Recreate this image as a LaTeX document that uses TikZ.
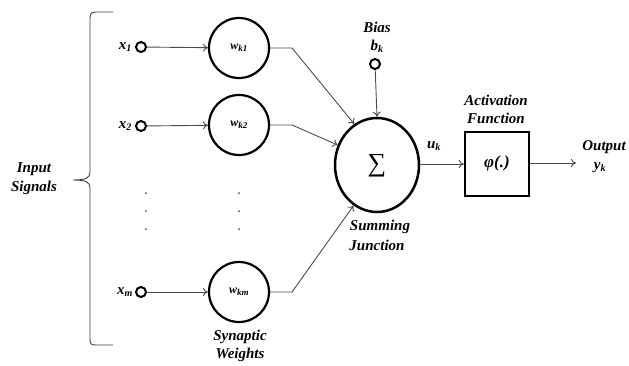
\documentclass[tikz,border=0pt]{standalone}
\usepackage{fontspec}
\setmainfont{Liberation Serif}
\usetikzlibrary{shapes.geometric,arrows.meta}
\begin{document}
\begin{tikzpicture}[x=1pt,y=-1pt,
  lbl/.style={font=\fontsize{15}{16}\selectfont\bfseries\itshape, inner sep=0pt},
  sig/.style={font=\fontsize{15}{16}\selectfont\bfseries\itshape, inner sep=0pt},
  wlbl/.style={font=\fontsize{12}{13}\selectfont\bfseries\itshape, inner sep=0pt},
  port/.style={circle, draw, line width=2pt, minimum size=10pt, inner sep=0pt},
  weight/.style={circle, draw, line width=2.2pt, minimum size=60pt, inner sep=0pt},
  wire/.style={draw=black!70, line width=0.9pt},
  arr/.style={wire, -{To[length=5pt,width=8pt]}},
  dotmark/.style={circle, fill=black!70, minimum size=2pt, inner sep=0pt}
]
\useasboundingbox (0,0) rectangle (629,365);

% brace grouping the inputs
\draw[black!75, line width=0.9pt]
  (113,12) -- (96,12) .. controls (91,12) and (90,14) .. (90,19)
  -- (90,172) .. controls (90,178) and (86,180) .. (73,180)
  .. controls (86,180) and (90,182) .. (90,188)
  -- (90,339) .. controls (90,344) and (91,345) .. (96,345) -- (113,345);
\node[lbl] (in1) at (34,169) {Input};
\node[lbl] (in2) at (34,188) {Signals};

% input ports
\node[port] (x1) at (141,47) {};
\node[port] (x2) at (141,126) {};
\node[port] (xm) at (141,292) {};
\node[sig, anchor=east] (lx1) at (132,47) {x\textsubscript{\fontsize{10}{10}\selectfont 1}};
\node[sig, anchor=east] (lx2) at (132,126) {x\textsubscript{\fontsize{10}{10}\selectfont 2}};
\node[sig, anchor=east] (lxm) at (133,292) {x\textsubscript{\fontsize{10}{10}\selectfont m}};

% synaptic weights
\node[weight] (w1) at (239,48) {};
\node[weight] (w2) at (239,125) {};
\node[weight] (wm) at (239,292) {};
\node[wlbl] at (w1) {w\textsubscript{\fontsize{9}{9}\selectfont k1}};
\node[wlbl] at (w2) {w\textsubscript{\fontsize{9}{9}\selectfont k2}};
\node[wlbl] at (wm) {w\textsubscript{\fontsize{9}{9}\selectfont km}};

% ellipsis dots
\foreach \yy [count=\i] in {193,211,229}{
  \node[dotmark] (da\i) at (146,\yy) {};
  \node[dotmark] (db\i) at (239,\yy) {};
}

\node[lbl] (syn1) at (240,337) {Synaptic};
\node[lbl] (syn2) at (240,355) {Weights};

% summing junction
\node[ellipse, draw, line width=2.5pt, minimum width=84pt, minimum height=94pt, inner sep=0pt] (sum) at (377,165) {};
\node[inner sep=0pt, font=\fontsize{26}{26}\selectfont] (sig) at (377,166) {∑};
\node[lbl] (sj1) at (380,227) {Summing};
\node[lbl] (sj2) at (377,245) {Junction};

% bias
\node[lbl] (bias) at (377,27) {Bias};
\node[lbl] (bk) at (377,46) {b\textsubscript{\fontsize{10}{10}\selectfont k}};
\node[port] (b) at (375,64) {};

% activation function
\node[draw, line width=2.5pt, minimum width=64pt, minimum height=64pt, inner sep=0pt] (act) at (497,164) {};
\node[inner sep=0pt, font=\fontsize{17}{17}\selectfont\bfseries\itshape] (phi) at (497,163) {φ(.)};
\node[lbl] (af1) at (496,100) {Activation};
\node[lbl] (af2) at (496,118) {Function};
\node[lbl] (uk) at (434,146) {u\textsubscript{\fontsize{10}{10}\selectfont k}};

% output
\coordinate (out) at (576,163);
\node[lbl] (o1) at (604,147) {Output};
\node[lbl] (o2) at (600,168) {y\textsubscript{\fontsize{10}{10}\selectfont k}};

% connectors
\coordinate (k1) at (292,48);
\coordinate (k2) at (292,125);
\coordinate (km) at (292,292);
\draw[arr] (x1) -- (w1);
\draw[arr] (x2) -- (w2);
\draw[arr] (xm) -- (wm);
\draw[arr] (w1.east) -- (k1) -- (sum.119);
\draw[arr] (w2.east) -- (k2) -- (sum.153);
\draw[arr] (wm.east) -- (km) -- (sum.240);
\draw[arr] (b) -- (sum.north);
\draw[arr] (sum.east |- act.west) -- (act.west);
\draw[arr] (act.east |- out) -- (out);
\end{tikzpicture}
\end{document}
